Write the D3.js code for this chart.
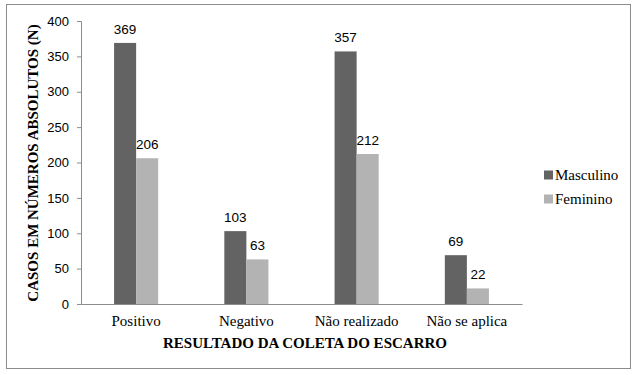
<!DOCTYPE html>
<html><head><meta charset="utf-8">
<script src="https://cdn.jsdelivr.net/npm/d3@7"></script>
<style>body{margin:0;background:#fff}</style>
</head><body>
<svg id="c" width="637" height="375"></svg>
<script>
const categories = ["Positivo", "Negativo", "Não realizado", "Não se aplica"];
const seriesNames = ["Masculino", "Feminino"];
const masculino = [369, 103, 357, 69];
const feminino = [206, 63, 212, 22];
const yTicks = [0, 50, 100, 150, 200, 250, 300, 350, 400];
const colors = ["#636363", "#b3b3b3"];

(function () {
const SERIF = "Liberation Serif";
const SANS = "Liberation Sans";
const svg = d3.select("#c");
svg.append("rect").attr("x", 6.5).attr("y", 4.5).attr("width", 624).attr("height", 364)
  .attr("fill", "#fff").attr("stroke", "#8c8c8c").attr("stroke-width", 1);

const mLeft = 81, mRight = 522, mTop = 21, mBottom = 304;
const x = d3.scaleBand().domain(categories).range([mLeft, mRight]).padding(0);
const xs = d3.scaleBand().domain(seriesNames).range([0, x.bandwidth()]).paddingInner(0).paddingOuter(1.5);
const y = d3.scaleLinear().domain([0, 400]).range([mBottom, mTop]);

const yAxis = svg.append("g").attr("transform", `translate(${mLeft},0)`)
  .call(d3.axisLeft(y).tickValues(yTicks).tickSize(4).tickPadding(8));
yAxis.attr("font-family", SANS).attr("font-size", 13);
yAxis.select(".domain").attr("stroke", "#8c8c8c");
yAxis.selectAll(".tick line").attr("stroke", "#8c8c8c");
yAxis.selectAll(".tick text").attr("fill", "#000");

const data = categories.map((c, i) => ({c, vals: [masculino[i], feminino[i]]}));
const g = svg.append("g");
data.forEach(d => {
  d.vals.forEach((v, j) => {
    const bx = x(d.c) + xs(seriesNames[j]);
    g.append("rect").attr("x", bx).attr("y", y(v)).attr("width", xs.bandwidth())
      .attr("height", y(0) - y(v)).attr("fill", colors[j]);
    g.append("text").attr("x", bx + xs.bandwidth() / 2).attr("y", y(v) - 9)
      .attr("text-anchor", "middle").attr("font-family", SANS)
      .attr("font-size", 13.5).text(v);
  });
});

const xAxis = svg.append("g").attr("transform", `translate(0,${mBottom})`)
  .call(d3.axisBottom(x).tickSize(0).tickPadding(11));
xAxis.attr("font-family", SERIF).attr("font-size", 15);
xAxis.select(".domain").attr("stroke", "#8c8c8c");
xAxis.selectAll(".tick text").attr("fill", "#000");

svg.append("text").attr("x", 305).attr("y", 348).attr("text-anchor", "middle")
  .attr("font-family", SERIF).attr("font-weight", "bold")
  .attr("font-size", 15).text("RESULTADO DA COLETA DO ESCARRO");

svg.append("text").attr("transform", "translate(38,163) rotate(-90)").attr("text-anchor", "middle")
  .attr("font-family", SERIF).attr("font-weight", "bold")
  .attr("font-size", 15).text("CASOS EM NÚMEROS ABSOLUTOS (N)");

const leg = svg.append("g");
seriesNames.forEach((s, i) => {
  const ly = 175 + i * 24;
  leg.append("rect").attr("x", 544).attr("y", ly - 4.5).attr("width", 9).attr("height", 9).attr("fill", colors[i]);
  leg.append("text").attr("x", 555).attr("y", ly + 5)
    .attr("font-family", SERIF).attr("font-size", 15).text(s);
});
})();
</script>
</body></html>
